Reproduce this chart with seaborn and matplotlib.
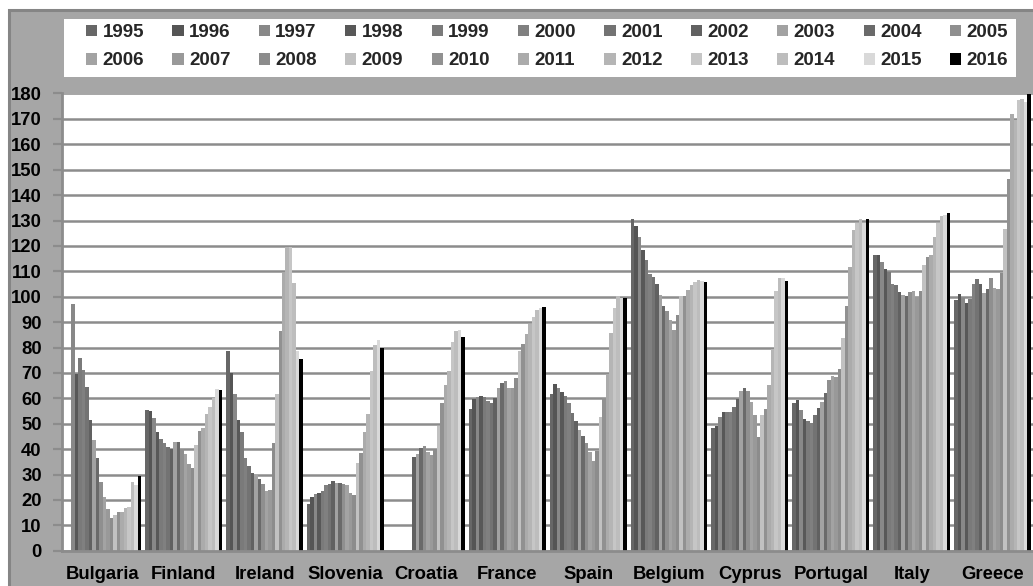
import numpy as np
import pandas as pd
import matplotlib
matplotlib.use("Agg")
import matplotlib.pyplot as plt
from matplotlib.patches import Patch, Rectangle
import seaborn as sns

# === DATA (general government debt, % of GDP) ===
years = [str(y) for y in range(1995, 2017)]
countries = ["Bulgaria", "Finland", "Ireland", "Slovenia", "Croatia", "France",
             "Spain", "Belgium", "Cyprus", "Portugal", "Italy", "Greece"]

nan = np.nan
bulgaria = [nan, nan, 97.0, 69.5, 75.8, 71.2, 64.5, 51.6, 43.6, 36.4, 27.0, 21.2,
            16.4, 13.0, 13.9, 15.3, 15.3, 16.8, 17.1, 27.0, 26.0, 29.5]
finland = [55.2, 55.1, 52.2, 46.9, 44.1, 42.5, 41.0, 40.2, 42.8, 42.7, 40.0, 38.2,
           34.0, 32.7, 41.7, 47.1, 48.5, 53.9, 56.5, 60.2, 63.6, 63.4]
ireland = [78.6, 69.9, 61.5, 51.5, 46.8, 36.3, 33.3, 30.6, 29.9, 28.2, 26.1, 23.6,
           23.9, 42.4, 61.8, 86.4, 109.5, 119.5, 119.5, 105.4, 78.7, 75.4]
slovenia = [18.5, 21.0, 22.4, 22.9, 23.7, 25.9, 26.1, 27.3, 26.7, 26.8, 26.3, 26.0,
            22.8, 21.8, 34.5, 38.3, 46.8, 54.0, 70.8, 80.9, 83.0, 79.8]
croatia = [nan] * 7 + [36.7, 38.0, 40.5, 41.3, 38.9, 37.7, 39.6, 49.0, 58.3, 65.2,
                       70.7, 82.2, 86.6, 86.7, 84.2]
france = [55.8, 59.7, 60.7, 60.8, 60.4, 58.9, 58.3, 60.2, 64.2, 65.9, 67.0, 64.0,
          64.1, 68.0, 78.8, 81.3, 85.3, 89.4, 92.2, 94.9, 95.5, 96.1]
spain = [61.8, 65.8, 64.2, 62.3, 60.9, 58.0, 54.1, 51.2, 47.5, 45.3, 42.3, 39.0,
         35.5, 39.4, 52.8, 60.1, 69.5, 85.7, 95.5, 100.4, 99.6, 99.4]
belgium = [130.5, 127.8, 123.4, 118.4, 114.4, 108.8, 107.9, 105.0, 100.8, 96.4, 94.4, 90.8,
           86.9, 92.6, 100.3, 100.4, 102.6, 104.5, 105.9, 106.6, 106.3, 105.9]
cyprus = [48.2, 49.2, 52.8, 54.5, 54.5, 54.6, 56.5, 59.7, 63.0, 63.9, 63.0, 58.4,
          53.4, 44.6, 53.4, 55.7, 65.2, 79.3, 102.2, 107.3, 107.3, 106.0]
portugal = [58.2, 59.5, 55.2, 51.8, 51.0, 50.3, 53.4, 56.1, 58.5, 62.0, 67.4, 68.9,
            68.4, 71.6, 83.7, 96.2, 111.5, 126.3, 129.0, 130.5, 129.2, 130.7]
italy = [116.6, 116.3, 113.8, 110.8, 109.6, 105.1, 104.7, 102.0, 100.6, 100.1, 101.8, 102.4,
         99.9, 102.3, 112.6, 115.6, 116.5, 123.4, 129.2, 131.8, 132.3, 133.0]
greece = [98.8, 100.9, 99.5, 97.6, 98.9, 104.9, 107.0, 104.9, 101.4, 102.9, 107.2, 103.6,
          103.1, 109.3, 126.8, 146.5, 172.1, 169.5, 177.6, 178.0, 176.8, 180.8]

debt = [bulgaria, finland, ireland, slovenia, croatia, france,
        spain, belgium, cyprus, portugal, italy, greece]

year_colors = ["#676767", "#555555", "#888888", "#585858", "#7a7a7a", "#808080",
               "#737373", "#616161", "#a2a2a2", "#6a6a6a", "#8f8f8f",
               "#a3a3a3", "#999999", "#8c8c8c", "#c1c1c1", "#919191", "#ababab",
               "#b5b5b5", "#c6c6c6", "#bdbdbd", "#d9d9d9", "#000000"]

rows = []
for country, vals in zip(countries, debt):
    for year, v in zip(years, vals):
        if not np.isnan(v):
            rows.append({"country": country, "year": year, "value": v})
df = pd.DataFrame(rows)

# === STYLE ===
sns.set_theme(style="white")
plt.rcParams["font.family"] = ["Liberation Sans", "DejaVu Sans"]
plt.rcParams["font.weight"] = "bold"

W, H = 1033, 586
fig = plt.figure(figsize=(W / 100, H / 100), dpi=100, facecolor="white")

# grey chart area with a darker border, white strip on top / left
fig.patches.append(Rectangle((8.5 / W, -0.1), 1.2, 1.1 - 9.5 / H, transform=fig.transFigure,
                             facecolor="#a6a6a6", edgecolor="#858585", lw=2.2, zorder=-3))
# white legend box
fig.patches.append(Rectangle((64 / W, 1 - 77.3 / H), (1016 - 64) / W, (77.3 - 19) / H,
                             transform=fig.transFigure, facecolor="white",
                             edgecolor="none", zorder=-2))

ax = fig.add_axes([62.3 / W, 1 - 550.7 / H, (W - 62.3) / W, (550.7 - 93.5) / H])
ax.set_facecolor("white")

sns.barplot(data=df, x="country", y="value", hue="year", order=countries,
            hue_order=years, palette=year_colors, width=0.95, saturation=1,
            linewidth=0, legend=False, ax=ax)

# the chart runs past the right edge of the picture, Greece is cut off
ax.set_xlim(-0.5, 11.386)
ax.set_ylim(0, 180)
ax.set_yticks(np.arange(0, 181, 10))
ax.set_xlabel("")
ax.set_ylabel("")

ax.yaxis.grid(True, color="#8c8c8c", lw=1.8)
ax.xaxis.grid(False)
ax.set_axisbelow(True)

for side in ["top", "right"]:
    ax.spines[side].set_visible(False)
for side in ["left", "bottom"]:
    ax.spines[side].set_color("#8c8c8c")
    ax.spines[side].set_linewidth(2)

ax.set_xticks(np.arange(-0.5, 12, 1), minor=True)
ax.tick_params(axis="x", which="major", length=0, pad=11, labelsize=13.3, labelcolor="black")
ax.tick_params(axis="x", which="minor", length=4.3, width=1.6, color="#8c8c8c", direction="out")
ax.tick_params(axis="y", which="major", length=6.5, width=1.6, color="#8c8c8c",
               direction="out", pad=8.3, labelsize=13.3, labelcolor="black",
               left=True, right=False)
for lab in ax.get_xticklabels() + ax.get_yticklabels():
    lab.set_fontweight("bold")

# legend: two rows, 1995-2005 on top, 2006-2016 below
handles = [Patch(facecolor=c, edgecolor="none") for c in year_colors]
order = []
for i in range(11):
    order += [i, i + 11]
fig.legend([handles[i] for i in order], [years[i] for i in order], ncol=11,
           loc="upper left", bbox_to_anchor=(86 / W, 1 - 30 / H, (1008 - 86) / W, 0.01),
           mode="expand", frameon=False, borderpad=0, borderaxespad=0,
           handlelength=0.6, handleheight=0.6, handletextpad=0.28, columnspacing=0.5,
           labelspacing=0.6, prop={"size": 13.5, "weight": "bold"})

fig.savefig("out.png", dpi=100, facecolor=fig.get_facecolor())
